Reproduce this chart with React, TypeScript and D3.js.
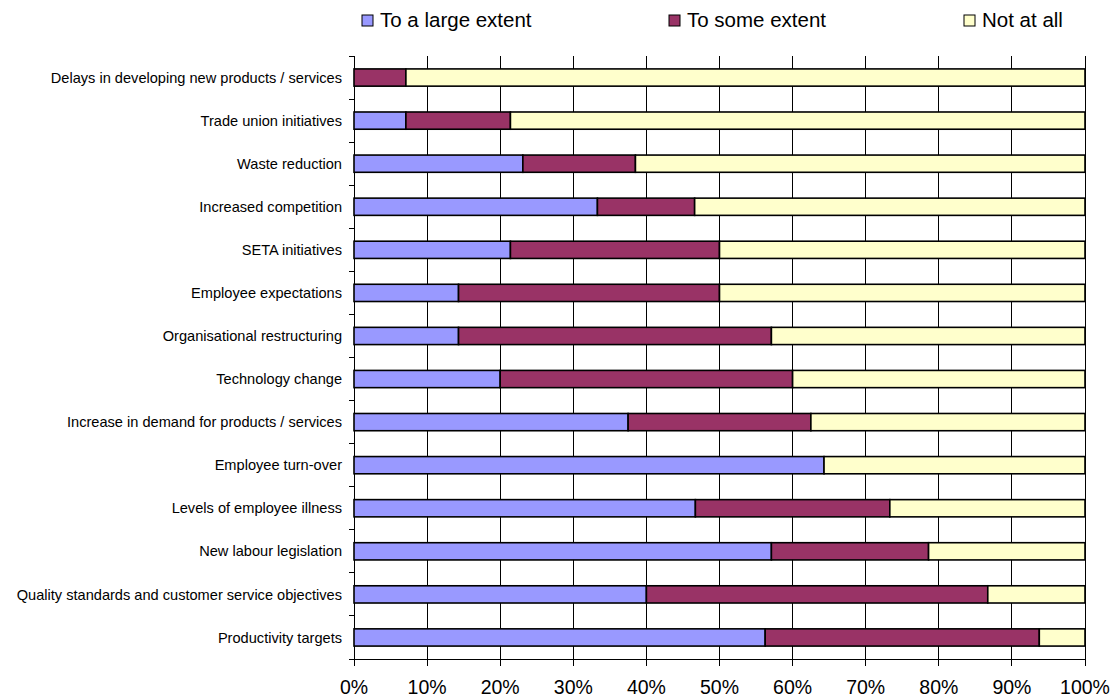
import React from "react";
import * as d3 from "d3";

const categories = [
  "Delays in developing new products / services",
  "Trade union initiatives",
  "Waste reduction",
  "Increased competition",
  "SETA initiatives",
  "Employee expectations",
  "Organisational restructuring",
  "Technology change",
  "Increase in demand for products / services",
  "Employee turn-over",
  "Levels of employee illness",
  "New labour legislation",
  "Quality standards and customer service objectives",
  "Productivity targets",
];

const largeExtent = [0, 7.1, 23.1, 33.3, 21.4, 14.3, 14.3, 20, 37.5, 64.3, 46.7, 57.1, 40, 56.25];
const someExtent = [7.1, 14.3, 15.4, 13.3, 28.6, 35.7, 42.8, 40, 25, 0, 26.6, 21.5, 46.7, 37.5];
const notAtAll = [92.9, 78.6, 61.5, 53.4, 50, 50, 42.9, 40, 37.5, 35.7, 26.7, 21.4, 13.3, 6.25];

const seriesNames = ["To a large extent", "To some extent", "Not at all"];
const seriesColors = ["#9999FF", "#993366", "#FFFFCC"];
const xTicks = [0, 10, 20, 30, 40, 50, 60, 70, 80, 90, 100];

const W = 1115;
const H = 698;
const left = 354;
const right = 1085;
const top = 56;
const bottom = 659;
const font = "'Liberation Sans', Arial, sans-serif";

export default function App() {
  const x = d3.scaleLinear().domain([0, 100]).range([left, right]);
  const y = d3.scaleBand<string>().domain(categories).range([top, bottom]).paddingInner(0.6).paddingOuter(0.3);
  const band = d3.scaleBand<string>().domain(categories).range([top, bottom]);

  const stackData = categories.map((c, i) => ({ c, a: largeExtent[i], b: someExtent[i], n: notAtAll[i] }));
  const stack = d3.stack<any>().keys(["a", "b", "n"]);
  const layers = stack(stackData);

  const legendX = [362, 669, 964];

  return (
    <svg width={W} height={H} style={{ position: "absolute", left: 0, top: 0, background: "#fff" }} fontFamily={font}>
      <rect width={W} height={H} fill="#fff" />
      {xTicks.map((t) => (
        <line key={t} x1={x(t)} x2={x(t)} y1={top} y2={bottom + 7} stroke="#000" strokeWidth={1} shapeRendering="crispEdges" />
      ))}
      <line x1={left} x2={left} y1={top} y2={bottom} stroke="#000" shapeRendering="crispEdges" />
      {d3.range(categories.length + 1).map((i) => {
        const yy = top + i * band.step();
        return <line key={i} x1={left - 5} x2={left} y1={yy} y2={yy} stroke="#000" shapeRendering="crispEdges" />;
      })}
      <line x1={left} x2={right} y1={bottom} y2={bottom} stroke="#000" shapeRendering="crispEdges" />
      {layers.map((layer, li) =>
        layer.map((d, i) => {
          const w = x(d[1]) - x(d[0]);
          if (w <= 0.01) return null;
          return (
            <rect
              key={li + "-" + i}
              x={x(d[0])}
              y={y(categories[i])!}
              width={w}
              height={y.bandwidth()}
              fill={seriesColors[li]}
              stroke="#000"
              strokeWidth={1.6}
            />
          );
        })
      )}
      {categories.map((c) => (
        <text key={c} x={342} y={band(c)! + band.bandwidth() / 2} dy="0.35em" textAnchor="end" fontSize={14.6} fill="#000">
          {c}
        </text>
      ))}
      {xTicks.map((t) => (
        <text key={t} x={x(t)} y={694} textAnchor="middle" fontSize={19.5} fill="#000">
          {t + "%"}
        </text>
      ))}
      {seriesNames.map((s, i) => (
        <g key={s}>
          <rect x={legendX[i]} y={15} width={11} height={11} fill={seriesColors[i]} stroke="#000" strokeWidth={1} />
          <text x={legendX[i] + 18} y={27} fontSize={20.5} fill="#000">
            {s}
          </text>
        </g>
      ))}
    </svg>
  );
}
